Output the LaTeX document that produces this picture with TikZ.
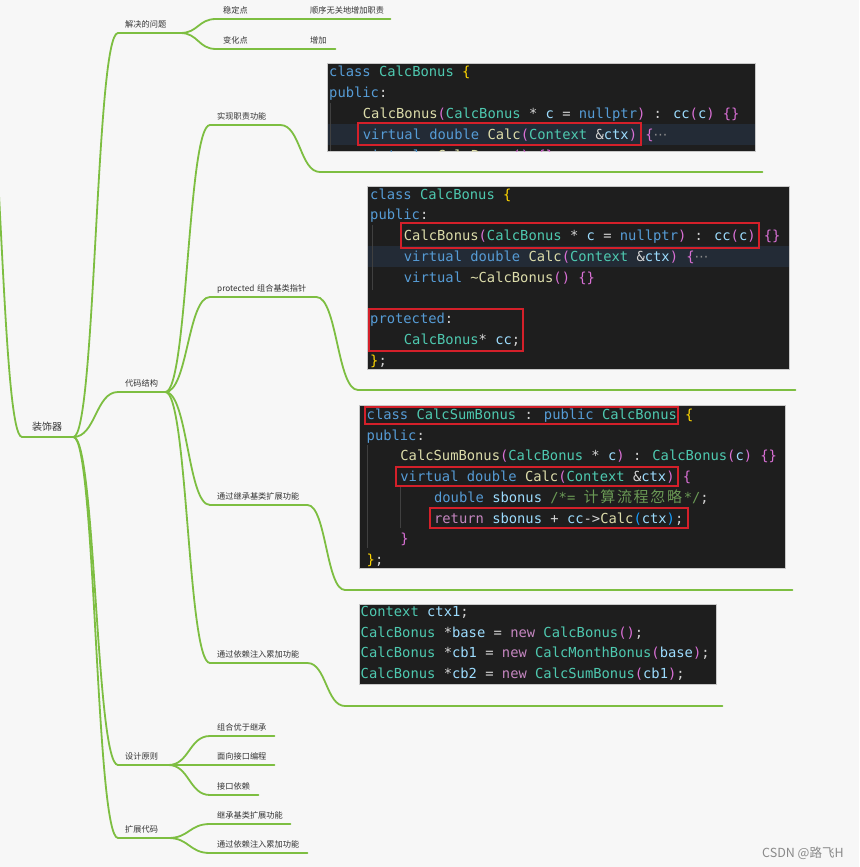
\documentclass[tikz,border=0pt]{standalone}
\usepackage{fontspec}
\usetikzlibrary{calc,positioning}
\newfontfamily\cjk{Noto Sans CJK SC}
\newfontfamily\codefont{DejaVu Sans Mono}
\newfontfamily\symfont{DejaVu Sans}

\definecolor{paper}{HTML}{F7F7F7}
\definecolor{limb}{RGB}{125,190,65}
\definecolor{lbl}{HTML}{333333}
\definecolor{codebg}{HTML}{1E1E1E}
\definecolor{codeframe}{HTML}{C8C8C8}
\definecolor{rowhl}{HTML}{232B36}
\definecolor{ckw}{HTML}{569CD6}
\definecolor{cty}{HTML}{4EC9B0}
\definecolor{cfn}{HTML}{DCDCAA}
\definecolor{cva}{HTML}{9CDCFE}
\definecolor{cpl}{HTML}{D4D4D4}
\definecolor{cgd}{HTML}{FFD700}
\definecolor{cmg}{HTML}{DA70D6}
\definecolor{cbl}{HTML}{179FFF}
\definecolor{cct}{HTML}{C586C0}
\definecolor{ccm}{HTML}{6A9955}
\definecolor{cfold}{HTML}{8C8C8C}
\definecolor{cguide}{HTML}{404040}
\definecolor{redline}{HTML}{D4202A}
\definecolor{wmark}{HTML}{8A8A8A}

% token colours
\newcommand\Kw[1]{\textcolor{ckw}{#1}}
\newcommand\Ty[1]{\textcolor{cty}{#1}}
\newcommand\Fn[1]{\textcolor{cfn}{#1}}
\newcommand\Va[1]{\textcolor{cva}{#1}}
\newcommand\Gd[1]{\textcolor{cgd}{#1}}
\newcommand\Mg[1]{\textcolor{cmg}{#1}}
\newcommand\Bl[1]{\textcolor{cbl}{#1}}
\newcommand\Ct[1]{\textcolor{cct}{#1}}
\newcommand\Cm[1]{\textcolor{ccm}{#1}}
\newcommand\Fold{\textcolor{cfold}{\symfont ⋯}}
\newcommand\Cw[1]{\makebox[16.7pt][l]{\cjk\fontsize{15}{16}\selectfont #1}}

\tikzset{
  topic/.style={anchor=south west, inner xsep=7pt, inner ysep=4pt,
    text height=6pt, text depth=1.5pt, align=left, text width=#1,
    font=\cjk\fontsize{8.2}{10}\selectfont, text=lbl},
  rootnode/.style={anchor=south west, inner xsep=10pt, inner ysep=4.5pt,
    text height=7.5pt, text depth=2pt, align=left, text width=31pt,
    font=\cjk\fontsize{10}{12}\selectfont, text=lbl},
  codeline/.style={anchor=south west, inner sep=0pt, minimum width=#1},
  limbline/.style={draw=limb, line width=1.8pt, line cap=round},
  branch/.style={to path={let \p1=(\tikztostart), \p2=(\tikztotarget) in
    .. controls ({0.5*\x1+0.5*\x2},\y1) and ({0.5*\x1+0.5*\x2},\y2) .. (\tikztotarget)}},
  codebox/.style={anchor=north west, fill=codebg, draw=codeframe, line width=0.5pt,
    inner sep=0pt},
  cl/.style={anchor=base west, inner sep=0pt,
    font=\codefont\fontsize{13.8}{16}\selectfont, text=cpl},
  redbox/.style={draw=redline, line width=1.3pt},
  guide/.style={draw=cguide, line width=0.8pt}
}

\begin{document}
\begin{tikzpicture}[x=1pt,y=-1pt]
\useasboundingbox (0,0) rectangle (859,867);
\fill[paper] (0,0) rectangle (859,867);
\clip (0,0) rectangle (859,867);

% code snapshots
\node[codebox, minimum width=428pt, minimum height=88pt] (blk1) at (327,63) {};
\node[codebox, minimum width=422pt, minimum height=183pt] (blk2) at (367,186) {};
\node[codebox, minimum width=426pt, minimum height=163pt] (blk3) at (359,405) {};
\node[codebox, minimum width=357pt, minimum height=80pt] (blk4) at (359,604) {};

\fill[rowhl] (327.5,124) rectangle (754.5,145);
\fill[rowhl] (367.5,246) rectangle (788.5,267);
\draw[guide] (330,103) -- (330,150.5);
\draw[guide] (372,225) -- (372,290);
\draw[guide] (367,445) -- (367,548);
\draw[guide] (400,487) -- (400,528);

\begin{scope}
\clip (327,63) rectangle (755,151);
\node[cl] (a1) at (329,76) {\Kw{class} \Ty{CalcBonus} \Gd{\{}};
\node[cl] (a2) at (329,97) {\Kw{public}:};
\node[cl] (a3) at (362.7,118) {\Fn{CalcBonus}\Mg{(}\Ty{CalcBonus} * \Va{c} = \Kw{nullptr}\Mg{)} : \Va{cc}\Mg{(}\Va{c}\Mg{)} \Mg{\{\}}};
\node[cl] (a4) at (362.7,139) {\Kw{virtual} \Kw{double} \Fn{Calc}\Mg{(}\Ty{Context} \&\Va{ctx}\Mg{)} \Mg{\{}\Fold};
\node[cl] (a5) at (362.7,160) {\Kw{virtual} \Fn{\textasciitilde CalcBonus}\Mg{()} \Mg{\{\}}};
\end{scope}

\node[cl] (b1) at (370,199) {\Kw{class} \Ty{CalcBonus} \Gd{\{}};
\node[cl] (b2) at (370,219.5) {\Kw{public}:};
\node[cl] (b3) at (403.7,240) {\Fn{CalcBonus}\Mg{(}\Ty{CalcBonus} * \Va{c} = \Kw{nullptr}\Mg{)} : \Va{cc}\Mg{(}\Va{c}\Mg{)} \Mg{\{\}}};
\node[cl] (b4) at (403.7,261) {\Kw{virtual} \Kw{double} \Fn{Calc}\Mg{(}\Ty{Context} \&\Va{ctx}\Mg{)} \Mg{\{}\Fold};
\node[cl] (b5) at (403.7,282) {\Kw{virtual} \Fn{\textasciitilde CalcBonus}\Mg{()} \Mg{\{\}}};
\node[cl] (b6) at (370,323) {\Kw{protected}:};
\node[cl] (b7) at (403.7,344) {\Ty{CalcBonus}* \Va{cc};};
\node[cl] (b8) at (370,365) {\Gd{\}};};

\node[cl] (c1) at (366.5,419) {\Kw{class} \Ty{CalcSumBonus} : \Kw{public} \Ty{CalcBonus} \Gd{\{}};
\node[cl] (c2) at (366.5,440) {\Kw{public}:};
\node[cl] (c3) at (400.2,460) {\Fn{CalcSumBonus}\Mg{(}\Ty{CalcBonus} * \Va{c}\Mg{)} : \Ty{CalcBonus}\Mg{(}\Va{c}\Mg{)} \Mg{\{\}}};
\node[cl] (c4) at (400.2,481) {\Kw{virtual} \Kw{double} \Fn{Calc}\Mg{(}\Ty{Context} \&\Va{ctx}\Mg{)} \Mg{\{}};
\node[cl] (c5) at (433.9,502) {\Kw{double} \Va{sbonus} \Cm{/*= \Cw{计}\Cw{算}\Cw{流}\Cw{程}\Cw{忽}\Cw{略}*/};};
\node[cl] (c6) at (433.9,523) {\Ct{return} \Va{sbonus} + \Va{cc}->\Fn{Calc}\Bl{(}\Va{ctx}\Bl{)};};
\node[cl] (c7) at (400.2,543) {\Mg{\}}};
\node[cl] (c8) at (366.5,564) {\Gd{\}};};

\node[cl] (d1) at (360.5,616) {\Ty{Context} \Va{ctx1};};
\node[cl] (d2) at (360.5,637) {\Ty{CalcBonus} *\Va{base} = \Ct{new} \Ty{CalcBonus}\Mg{()};};
\node[cl] (d3) at (360.5,657) {\Ty{CalcBonus} *\Va{cb1} = \Ct{new} \Ty{CalcMonthBonus}\Mg{(}\Va{base}\Mg{)};};
\node[cl] (d4) at (360.5,678) {\Ty{CalcBonus} *\Va{cb2} = \Ct{new} \Ty{CalcSumBonus}\Mg{(}\Va{cb1}\Mg{)};};

\draw[redbox] (358,123) rectangle (641,145);
\draw[redbox] (401,223) rectangle (759,248);
\draw[redbox] (369,309) rectangle (523,351);
\draw[redbox] (365,407) rectangle (678,424);
\draw[redbox] (396,467) rectangle (678,486);
\draw[redbox] (430,508) rectangle (688,528);

% mind map
\coordinate (src) at (-20,30);
\node[rootnode] (deco) at (22,437) {装饰器};
\node[topic=48pt] (jj) at (118,33) {解决的问题};
\node[topic=33pt] (dm) at (118,392) {代码结构};
\node[topic=36pt] (sj) at (118,765) {设计原则};
\node[topic=36pt] (kz) at (118,838) {扩展代码};

\node[topic=73pt] (wd) at (216,19) {稳定点};
\node[topic=73pt] (sx) at (303,19) {顺序无关地增加职责};
\node[topic=73pt] (bh) at (216,49) {变化点};
\node[topic=18pt] (zj) at (303,49) {增加};

\node[topic=56pt] (sxzz) at (210,125) {实现职责功能};
\node[topic=92pt] (prot) at (210,297) {protected 组合基类指针};
\node[topic=83pt] (jc) at (210,505) {通过继承基类扩展功能};
\node[topic=83pt] (yl) at (210,663) {通过依赖注入累加功能};

\node[codeline=442pt] (img1) at (320,172) {};
\node[codeline=437pt] (img2) at (358,390) {};
\node[codeline=447pt] (img3) at (345,590) {};
\node[codeline=377pt] (img4) at (345,706) {};

\node[topic=50pt] (zh) at (210,736) {组合优于继承};
\node[topic=50pt] (mx) at (210,765) {面向接口编程};
\node[topic=34pt] (jk) at (210,795) {接口依赖};
\node[topic=66pt] (jcjl) at (210,824) {继承基类扩展功能};
\node[topic=83pt] (tgyl) at (210,853) {通过依赖注入累加功能};

\foreach \n in {deco,jj,dm,sj,kz,wd,sx,bh,zj,sxzz,prot,jc,yl,img1,img2,img3,img4,zh,mx,jk,jcjl,tgyl}
  \draw[limbline] (\n.south west) -- (\n.south east);

\draw[limbline] (src) to[branch] (deco.south west);
\foreach \a/\b in {deco/jj,deco/dm,deco/sj,deco/kz,jj/wd,jj/bh,wd/sx,bh/zj,
                   dm/sxzz,dm/prot,dm/jc,dm/yl,sxzz/img1,prot/img2,jc/img3,yl/img4,
                   sj/zh,sj/mx,sj/jk,kz/jcjl,kz/tgyl}
  \draw[limbline] (\a.south east) to[branch] (\b.south west);

\node[anchor=base west, inner sep=0pt, font=\cjk\fontsize{12.5}{14}\selectfont, text=wmark] (wm) at (762,857) {CSDN @路飞H};
\end{tikzpicture}
\end{document}
